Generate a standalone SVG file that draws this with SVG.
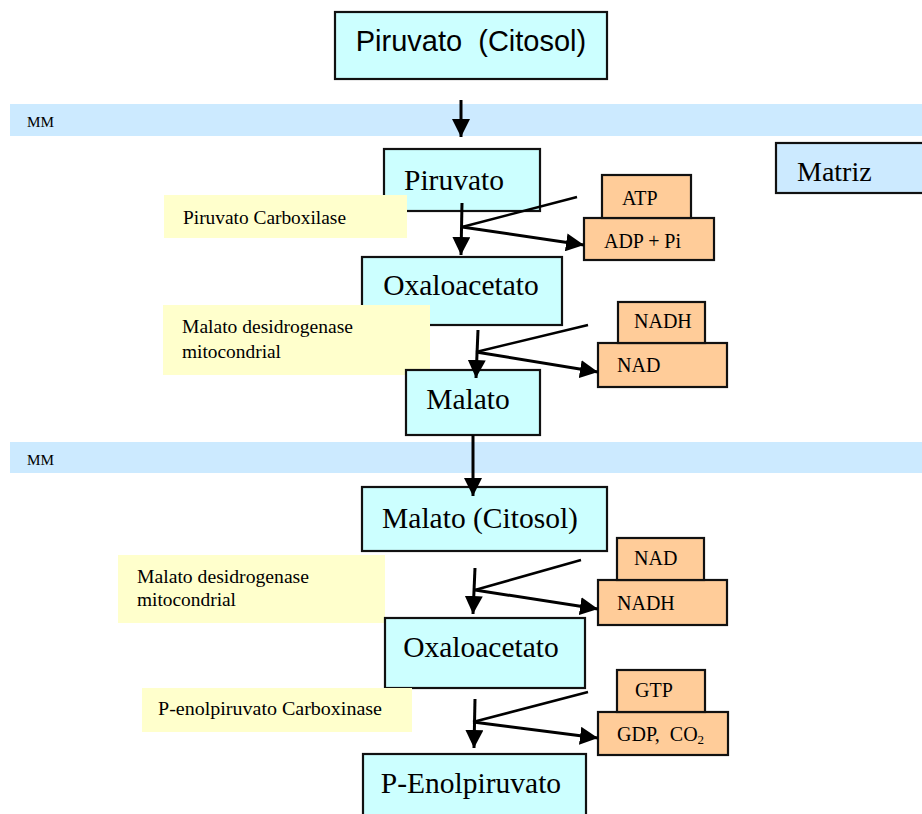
<svg xmlns="http://www.w3.org/2000/svg" width="922" height="814" viewBox="0 0 922 814">
<style>
.met{fill:#ccffff;stroke:#111;stroke-width:2.2}
.cof{fill:#ffcc99;stroke:#111;stroke-width:2.2}
.enz{fill:#ffffcc}
.band{fill:#cceaff}
.t28{font-family:"Liberation Serif",serif;font-size:29.5px;fill:#000;text-anchor:middle}
.cof-t{font-family:"Liberation Serif",serif;font-size:20px;fill:#000}
.enz-t{font-family:"Liberation Serif",serif;font-size:18px;fill:#000}
.mm{font-family:"Liberation Serif",serif;font-size:15px;fill:#000}
.ln{stroke:#000;stroke-width:2.5;fill:none}
.ar{stroke:#000;stroke-width:3;fill:none;marker-end:url(#ah)}
</style>
<defs>
<marker id="ah" markerUnits="userSpaceOnUse" markerWidth="18" markerHeight="18" viewBox="0 0 16 16" refX="16" refY="8" orient="auto">
<path d="M0,0 L16,8 L0,16 Z" fill="#000"/>
</marker>
</defs>
<rect width="922" height="814" fill="#fff"/>
<g id="band1"><rect class="band" x="10" y="104" width="912" height="32"/><text class="mm" x="27" y="127" textLength="27" lengthAdjust="spacingAndGlyphs">MM</text></g>
<g id="band2"><rect class="band" x="10" y="442" width="912" height="31"/><text class="mm" x="27" y="465" textLength="27" lengthAdjust="spacingAndGlyphs">MM</text></g>
<g id="piruvato-citosol"><rect class="met" x="335" y="12" width="272" height="67"/><text x="471" y="51" font-family="Liberation Sans, Arial, sans-serif" font-size="29" text-anchor="middle" xml:space="preserve">Piruvato  (Citosol)</text></g>
<g id="matriz"><rect x="776" y="143" width="150" height="50" fill="#cceaff" stroke="#111" stroke-width="2.2"/><text class="t28" x="797" y="181" style="text-anchor:start;font-size:28px">Matriz</text></g>
<g id="piruvato"><rect class="met" x="384" y="149" width="156" height="62"/><text class="t28" x="454" y="190">Piruvato</text></g>
<g id="enz-pc"><rect class="enz" x="164" y="195" width="243" height="43"/><text class="enz-t" x="183" y="224" textLength="163" lengthAdjust="spacingAndGlyphs">Piruvato Carboxilase</text></g>
<g id="adp"><rect class="cof" x="584" y="218" width="130" height="42"/><text class="cof-t" x="604" y="248" textLength="77" lengthAdjust="spacingAndGlyphs">ADP + Pi</text></g>
<g id="atp"><rect class="cof" x="602" y="175" width="89" height="43"/><text class="cof-t" x="622" y="205">ATP</text></g>
<g id="oxalo1"><rect class="met" x="362" y="257" width="200" height="68"/><text class="t28" x="461" y="295">Oxaloacetato</text></g>
<g id="enz-mdh1"><rect class="enz" x="163" y="305" width="267" height="70"/><text class="enz-t" x="182" y="333" textLength="171" lengthAdjust="spacingAndGlyphs">Malato desidrogenase</text><text class="enz-t" x="182" y="358" textLength="99" lengthAdjust="spacingAndGlyphs">mitocondrial</text></g>
<g id="nad1"><rect class="cof" x="598" y="343" width="129" height="44"/><text class="cof-t" x="617" y="372" font-size="19">NAD</text></g>
<g id="nadh1"><rect class="cof" x="618" y="302" width="87" height="41"/><text class="cof-t" x="634" y="328" font-size="15.5">NADH</text></g>
<g id="malato"><rect class="met" x="406" y="370" width="134" height="65"/><text class="t28" x="468" y="409">Malato</text></g>
<g id="malato-citosol"><rect class="met" x="362" y="487" width="245" height="64"/><text class="t28" x="480" y="528">Malato (Citosol)</text></g>
<g id="enz-mdh2"><rect class="enz" x="118" y="555" width="267" height="68"/><text class="enz-t" x="137" y="583" textLength="172" lengthAdjust="spacingAndGlyphs">Malato desidrogenase</text><text class="enz-t" x="137" y="606" textLength="99" lengthAdjust="spacingAndGlyphs">mitocondrial</text></g>
<g id="nadh2"><rect class="cof" x="598" y="580" width="129" height="45"/><text class="cof-t" x="617" y="610">NADH</text></g>
<g id="nad2"><rect class="cof" x="617" y="538" width="87" height="42"/><text class="cof-t" x="634" y="565" font-size="15.5">NAD</text></g>
<g id="oxalo2"><rect class="met" x="385" y="618" width="200" height="70"/><text class="t28" x="481" y="657">Oxaloacetato</text></g>
<g id="enz-pepck"><rect class="enz" x="142" y="688" width="270" height="44"/><text class="enz-t" x="158" y="715" textLength="224" lengthAdjust="spacingAndGlyphs">P-enolpiruvato Carboxinase</text></g>
<g id="gdp"><rect class="cof" x="598" y="712" width="130" height="43"/><text class="cof-t" x="617" y="741" xml:space="preserve">GDP,  CO<tspan font-size="13" dy="3">2</tspan></text></g>
<g id="gtp"><rect class="cof" x="617" y="670" width="88" height="42"/><text class="cof-t" x="635" y="697">GTP</text></g>
<g id="pep"><rect class="met" x="363" y="754" width="223" height="70"/><text class="t28" x="471" y="793">P-Enolpiruvato</text></g>
<g id="connectors">
<line class="ar" x1="461" y1="100" x2="461" y2="137"/>
<line class="ar" x1="462" y1="203" x2="461" y2="255"/>
<line class="ln" x1="577" y1="197" x2="462" y2="227"/>
<line class="ar" x1="462" y1="227" x2="584" y2="245"/>
<line class="ar" x1="478" y1="330" x2="476" y2="378"/>
<line class="ln" x1="588" y1="325" x2="476" y2="352"/>
<line class="ar" x1="476" y1="352" x2="598" y2="372"/>
<line class="ar" x1="473" y1="435" x2="473" y2="496"/>
<line class="ar" x1="475" y1="568" x2="473" y2="614"/>
<line class="ln" x1="581" y1="560" x2="475" y2="590"/>
<line class="ar" x1="475" y1="590" x2="598" y2="609"/>
<line class="ar" x1="475" y1="699" x2="474" y2="748"/>
<line class="ln" x1="588" y1="692" x2="473" y2="722"/>
<line class="ar" x1="473" y1="722" x2="598" y2="738"/>
</g>
</svg>
